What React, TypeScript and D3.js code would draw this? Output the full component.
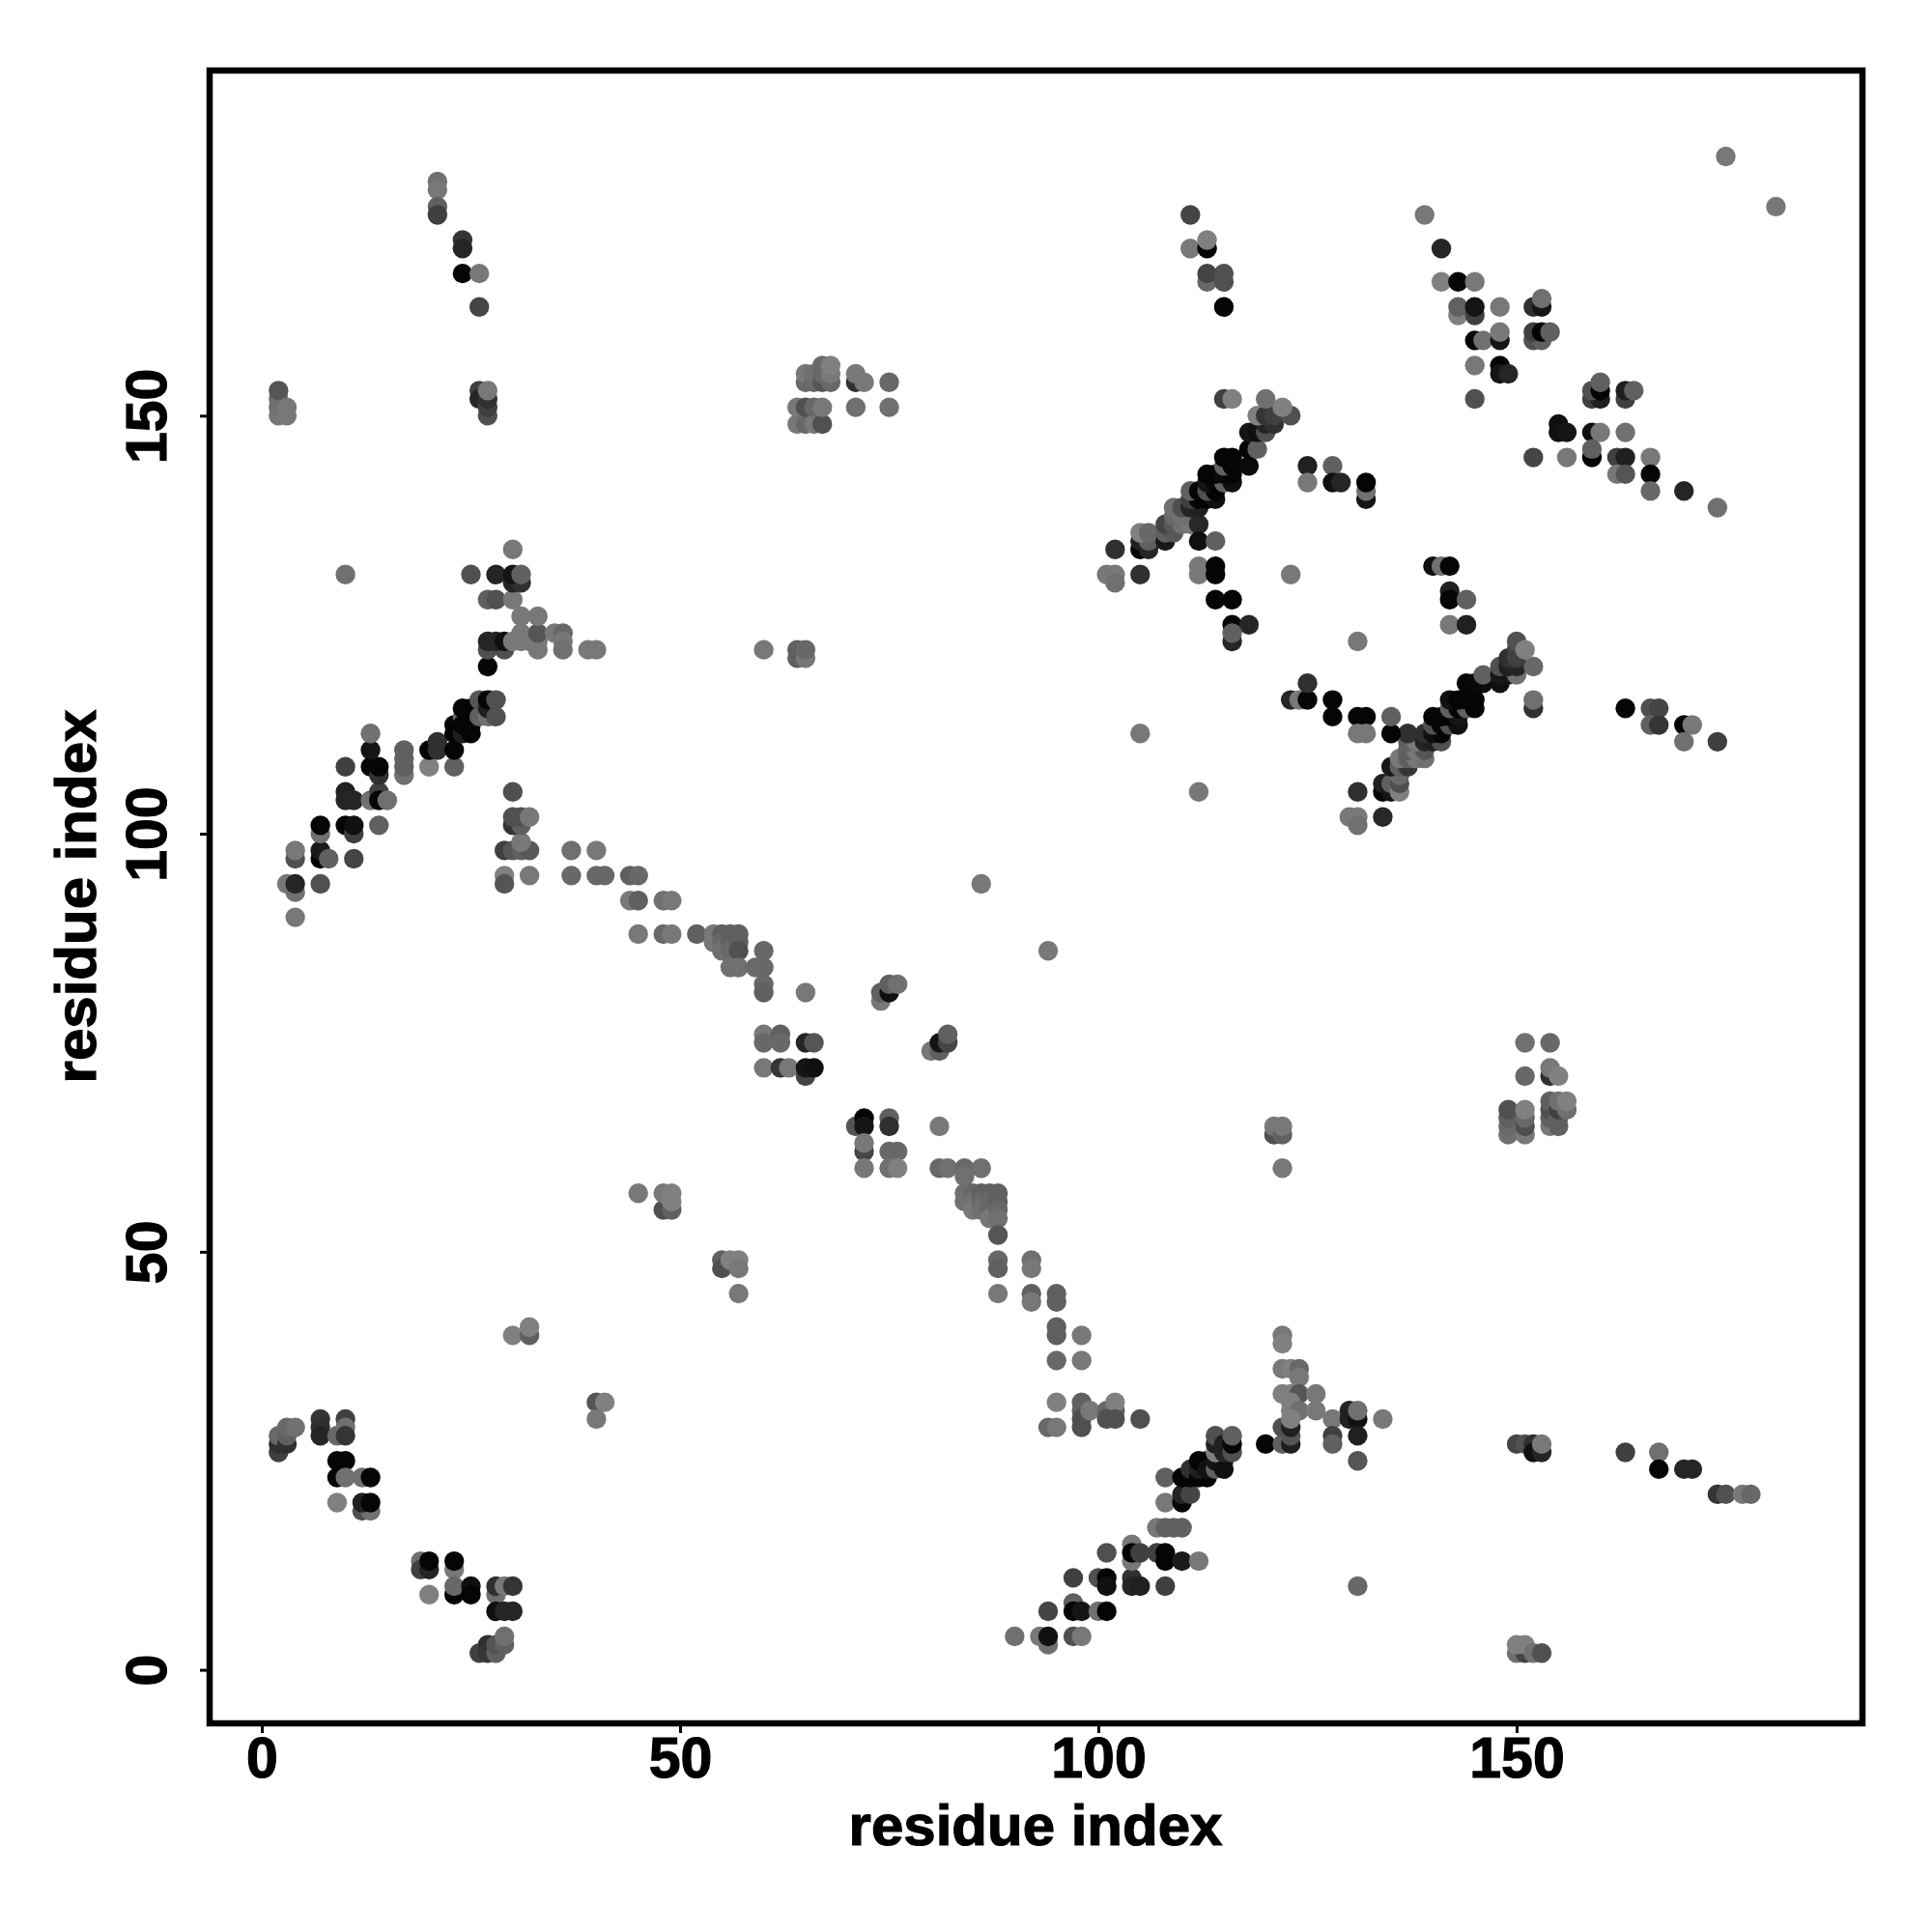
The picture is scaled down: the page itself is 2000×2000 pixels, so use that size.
import React, { useEffect, useRef } from 'react';
import * as d3 from 'd3';

// each contact is [residue i, residue j, grey level]
type Contact = [number, number, number];

const xTicks = [0, 50, 100, 150];
const yTicks = [0, 50, 100, 150];
const axisLabel = 'residue index';

const cornerLow: Contact[] = [
  [2, 26, 64], [2, 27, 48], [2, 28, 104], [3, 27, 48], [3, 28, 96], [3, 29, 104], [4, 29, 112],
  [7, 30, 53], [7, 29, 48], [7, 28, 37], [9, 28, 104], [10, 30, 64], [10, 29, 112], [10, 28, 53],
  [9, 25, 5], [10, 25, 5], [9, 23, 5], [10, 23, 112], [12, 23, 112], [13, 23, 5], [9, 20, 128],
  [12, 19, 80], [13, 19, 112], [12, 20, 32], [13, 20, 5],
  [19, 13, 112], [19, 12, 64], [20, 12, 37], [20, 13, 5], [20, 9, 128], [23, 12, 120], [23, 13, 5],
  [23, 9, 5], [23, 10, 104], [25, 10, 16], [25, 9, 5],
  [28, 9, 112], [28, 10, 48], [29, 10, 120], [30, 10, 53], [28, 7, 16], [29, 7, 37], [30, 7, 37],
  [26, 2, 64], [27, 3, 48], [27, 2, 53], [28, 2, 96], [28, 3, 85], [29, 3, 96], [29, 4, 112],
];

const scatterLow: Contact[] = [
  [30, 40, 128], [32, 40, 96], [32, 41, 128], [40, 32, 85], [41, 32, 128], [40, 30, 120],
  [45, 57, 120], [48, 55, 80], [49, 55, 96], [48, 57, 120], [49, 57, 128], [49, 56, 128],
  [55, 49, 96], [55, 48, 80], [56, 49, 128], [57, 49, 128], [57, 48, 120], [57, 45, 120],
];

const middleBand: Contact[] = [
  [52, 88, 96], [54, 88, 120], [54, 87, 120], [55, 88, 96], [55, 87, 104], [55, 86, 112],
  [56, 88, 96], [56, 87, 96], [56, 86, 104], [57, 88, 96], [57, 87, 96], [57, 86, 80],
  [56, 84, 112], [57, 84, 112], [60, 86, 104], [59, 84, 106], [60, 84, 104], [60, 82, 104],
  [60, 81, 96], [65, 81, 120],
  [60, 76, 120], [60, 75, 104], [60, 72, 120], [62, 76, 96], [62, 75, 104], [62, 72, 53], [63, 72, 120],
  [65, 75, 37], [66, 75, 85], [65, 71, 69], [65, 72, 21], [66, 72, 16],
  [71, 65, 85], [72, 66, 5], [72, 65, 21], [75, 66, 96], [75, 65, 48], [72, 62, 69], [72, 63, 120],
  [72, 60, 120], [75, 62, 104], [76, 62, 104], [75, 60, 112], [76, 60, 128],
  [74, 80, 120], [74, 81, 96], [75, 81, 16], [75, 82, 96], [76, 82, 112],
  [80, 74, 120], [81, 74, 96], [81, 75, 21], [82, 75, 69], [82, 76, 96], [81, 65, 120],
  [81, 60, 104], [82, 60, 112], [84, 60, 104], [86, 60, 112], [84, 59, 112],
  [84, 57, 112], [84, 56, 112], [85, 57, 104], [85, 56, 112], [85, 55, 120],
  [86, 57, 96], [86, 56, 104], [86, 55, 112], [87, 57, 96], [87, 56, 104], [87, 55, 104], [87, 54, 120],
  [88, 57, 96], [88, 56, 96], [88, 55, 104], [88, 54, 112], [88, 52, 85],
  [88, 49, 104], [88, 48, 96], [88, 45, 120], [92, 49, 112], [92, 48, 120], [92, 45, 96], [92, 44, 120],
  [95, 45, 96], [95, 44, 96], [95, 41, 96], [95, 40, 96], [95, 37, 104], [98, 40, 120], [98, 37, 120],
  [95, 32, 128], [98, 32, 96], [98, 31, 96], [98, 30, 80], [98, 29, 80], [99, 31, 120],
  [101, 31, 104], [102, 31, 96], [102, 32, 128], [101, 30, 80], [102, 30, 80], [105, 30, 80],
  [94, 29, 104], [95, 29, 120],
];

const helixLow: Contact[] = [
  [90, 4, 112], [93, 4, 120], [94, 3, 112], [94, 4, 16], [94, 7, 69], [97, 4, 80], [98, 4, 120],
  [97, 8, 96], [97, 7, 5], [98, 7, 21], [100, 7, 112], [101, 7, 5], [97, 11, 64], [100, 11, 80],
  [101, 11, 5], [101, 10, 16], [101, 14, 80], [104, 11, 48], [104, 10, 37], [105, 10, 32],
  [104, 15, 120], [104, 13, 120], [104, 14, 5], [105, 14, 64], [107, 14, 64], [108, 14, 5], [108, 13, 5],
  [108, 10, 64], [110, 13, 26], [112, 13, 120],
  [107, 17, 120], [108, 17, 96], [109, 17, 96], [110, 17, 96], [108, 20, 120], [110, 20, 5],
  [110, 21, 37], [111, 21, 69], [108, 23, 96], [110, 23, 5], [111, 23, 5], [111, 24, 48], [112, 23, 5],
  [113, 23, 5], [112, 24, 32], [112, 25, 5], [113, 25, 5], [113, 24, 16], [114, 24, 96], [114, 25, 21],
  [115, 25, 32], [115, 24, 16], [114, 26, 128], [114, 27, 32], [114, 28, 80], [115, 26, 37], [115, 27, 32],
  [116, 26, 80], [116, 27, 5], [116, 28, 96],
];

const knotLow: Contact[] = [
  [120, 27, 5], [122, 27, 96], [123, 27, 32], [122, 29, 80], [123, 28, 85], [123, 29, 32],
  [122, 40, 120], [122, 39, 128], [122, 36, 120], [123, 36, 128], [124, 36, 104], [124, 35, 120],
  [122, 33, 128], [123, 33, 128], [124, 33, 85], [126, 33, 120], [123, 32, 128], [123, 31, 128],
  [124, 31, 112], [123, 30, 128], [126, 31, 120],
  [128, 30, 120], [128, 28, 64], [128, 27, 96], [130, 31, 37], [130, 30, 32], [131, 30, 16],
  [131, 31, 112], [131, 28, 32], [131, 25, 85], [134, 30, 120], [131, 10, 104],
  [150, 27, 69], [151, 27, 80], [152, 27, 48], [152, 26, 16], [153, 26, 37], [153, 27, 120],
  [163, 26, 64], [167, 26, 112], [167, 24, 5], [170, 24, 37], [171, 24, 37],
  [174, 21, 53], [175, 21, 80], [177, 21, 120], [178, 21, 104],
  [150, 2, 112], [151, 2, 69], [150, 3, 128], [151, 3, 128], [152, 2, 112], [153, 2, 80],
];

const blockRight: Contact[] = [
  [121, 64, 80], [121, 65, 120], [122, 64, 96], [122, 65, 120], [122, 60, 120],
  [151, 75, 112], [154, 75, 104], [151, 71, 104], [154, 71, 48], [154, 72, 120], [155, 71, 128],
  [149, 64, 112], [149, 65, 104], [149, 66, 96], [149, 67, 80],
  [151, 64, 120], [151, 65, 80], [151, 66, 104], [151, 67, 128],
  [154, 65, 120], [154, 66, 96], [154, 67, 80], [154, 68, 96],
  [155, 65, 96], [155, 66, 96], [155, 67, 64], [155, 68, 112], [156, 67, 112], [156, 68, 128],
];

const helixLeft: Contact[] = [
  [4, 90, 120], [3, 94, 120], [4, 93, 112], [4, 94, 37], [7, 94, 80], [4, 97, 80], [4, 98, 120],
  [7, 97, 5], [7, 98, 26], [8, 97, 96], [11, 97, 69], [7, 100, 112], [7, 101, 5], [10, 101, 5],
  [11, 100, 64], [11, 101, 16], [14, 101, 96], [10, 105, 32], [10, 104, 37], [11, 104, 37],
  [13, 104, 112], [14, 105, 64], [14, 104, 5], [15, 104, 112], [10, 108, 64], [13, 108, 5],
  [14, 107, 48], [14, 108, 5], [13, 110, 21], [13, 112, 112],
  [17, 107, 112], [17, 108, 96], [17, 109, 96], [17, 110, 96], [20, 108, 128], [20, 110, 5],
  [21, 110, 48], [21, 111, 48], [23, 108, 96], [23, 110, 5], [23, 112, 5], [23, 113, 5],
  [24, 114, 104], [24, 112, 32], [24, 113, 5], [24, 115, 5], [25, 112, 5], [25, 113, 5], [25, 115, 5],
  [26, 114, 96], [26, 116, 85], [27, 114, 112], [27, 115, 32], [27, 116, 5], [28, 114, 80], [28, 116, 80],
];

const bridgeLeft: Contact[] = [
  [29, 95, 128], [29, 94, 85], [32, 95, 120], [29, 98, 64], [30, 98, 85], [31, 98, 96], [32, 98, 88],
  [31, 99, 120], [30, 101, 53], [31, 101, 96], [30, 102, 80], [31, 102, 80], [32, 102, 120], [30, 105, 80],
  [37, 98, 112], [40, 98, 120], [37, 95, 104], [40, 95, 104], [41, 95, 104], [44, 95, 96], [45, 95, 104],
  [44, 92, 120], [45, 92, 96], [48, 92, 112], [49, 92, 120], [45, 88, 120], [48, 88, 104], [49, 88, 120],
  [10, 131, 112], [86, 94, 120], [94, 86, 120],
];

const shoulderLeft: Contact[] = [
  [27, 120, 5], [27, 122, 80], [29, 122, 80], [27, 123, 37], [28, 123, 37], [29, 123, 16], [30, 123, 120],
  [31, 123, 120], [32, 123, 120], [33, 123, 120], [33, 122, 120], [31, 124, 120], [33, 124, 85], [35, 124, 120],
  [36, 124, 104], [36, 123, 120], [36, 122, 112], [39, 122, 120], [40, 122, 120], [31, 126, 120], [33, 126, 120],
  [27, 128, 96], [28, 128, 80], [30, 128, 120], [25, 131, 80], [28, 131, 37], [30, 130, 37], [31, 130, 48],
  [30, 131, 21], [31, 131, 96], [30, 134, 120],
  [60, 122, 120], [64, 121, 96], [64, 122, 96], [65, 121, 120], [65, 122, 104],
];

const topLeft: Contact[] = [
  [21, 178, 112], [21, 177, 120], [21, 175, 96], [21, 174, 64], [24, 171, 53], [24, 170, 37], [24, 167, 5],
  [26, 167, 120], [26, 163, 69], [2, 150, 120], [2, 151, 112], [2, 152, 112], [2, 153, 85], [3, 150, 120], [3, 151, 120],
  [26, 153, 64], [26, 152, 37], [27, 150, 80], [27, 151, 64], [27, 152, 48], [27, 153, 120],
  [64, 149, 120], [65, 149, 104], [66, 149, 120], [67, 149, 80], [64, 151, 120], [65, 151, 80], [66, 151, 104],
  [67, 151, 120], [65, 154, 104], [65, 155, 120], [66, 154, 104], [66, 155, 112], [67, 154, 85], [67, 155, 104],
  [67, 156, 104], [68, 154, 104], [68, 155, 120], [68, 156, 128], [71, 154, 48], [71, 155, 120], [72, 154, 120],
  [75, 154, 104], [71, 151, 112], [75, 151, 112],
];

const topRight: Contact[] = [
  [111, 174, 69], [111, 170, 120], [113, 170, 5], [113, 171, 128], [113, 166, 104], [113, 167, 69], [115, 166, 80],
  [115, 167, 80], [115, 163, 5], [175, 181, 120], [181, 175, 120],
  [139, 174, 120], [141, 170, 37], [141, 166, 128], [143, 166, 5], [145, 166, 120],
  [143, 162, 128], [143, 163, 96], [145, 162, 64], [145, 163, 21], [148, 163, 120],
  [152, 163, 48], [153, 163, 21], [153, 164, 112],
  [145, 159, 5], [146, 159, 112], [148, 159, 21], [148, 160, 120], [152, 159, 80], [153, 159, 96],
  [152, 160, 64], [153, 160, 5], [154, 160, 96],
  [145, 156, 120], [148, 156, 5], [148, 155, 21], [149, 155, 37], [145, 152, 80],
  [159, 152, 64], [160, 152, 32], [159, 153, 80], [160, 153, 5], [160, 154, 96], [163, 152, 64], [163, 153, 32], [164, 153, 96],
  [155, 149, 16], [155, 148, 16], [156, 148, 21], [159, 148, 16], [160, 148, 120], [163, 148, 112],
  [152, 145, 69], [156, 145, 120], [159, 145, 5], [159, 146, 96], [162, 145, 64], [163, 145, 32],
  [162, 143, 120], [163, 143, 85], [166, 145, 120], [166, 143, 5], [166, 141, 104], [170, 141, 37], [174, 139, 112],
];

const helixUpper: Contact[] = [
  [102, 134, 48], [101, 131, 120], [102, 131, 120], [102, 130, 112], [105, 131, 48],
  [105, 134, 5], [106, 134, 37], [105, 135, 32], [106, 135, 96], [105, 136, 128], [106, 136, 104],
  [108, 135, 24], [108, 136, 96], [109, 136, 88], [108, 137, 69], [109, 137, 88], [110, 137, 112], [111, 137, 120],
  [109, 138, 104], [110, 138, 112], [112, 137, 40], [112, 135, 16], [114, 135, 96],
  [109, 139, 112], [110, 139, 80], [111, 139, 37], [112, 139, 32], [111, 140, 64], [112, 140, 5],
  [113, 140, 5], [114, 140, 16], [111, 141, 96], [112, 141, 5], [113, 141, 80], [114, 141, 5],
  [113, 142, 21], [114, 142, 5], [115, 142, 96], [116, 142, 16], [113, 143, 5], [114, 143, 5],
  [115, 143, 10], [116, 143, 5], [115, 144, 96], [116, 144, 5], [115, 145, 5], [116, 145, 5],
  [118, 144, 10], [118, 146, 5], [119, 146, 96], [118, 148, 21], [119, 148, 16], [120, 148, 80],
  [120, 149, 37], [121, 149, 48], [119, 150, 128], [120, 150, 53], [121, 150, 64], [123, 150, 80],
  [122, 151, 128], [120, 152, 112], [115, 152, 64], [116, 152, 128],
  [112, 131, 120], [112, 132, 120], [114, 131, 5], [114, 132, 5], [114, 128, 5], [116, 128, 5],
  [116, 125, 5], [118, 125, 37], [116, 123, 37], [116, 124, 96], [123, 131, 120],
  [125, 144, 32], [125, 142, 120], [128, 144, 96], [128, 142, 16], [129, 142, 37],
  [132, 140, 21], [132, 141, 112], [132, 142, 5],
  [140, 132, 16], [141, 132, 112], [142, 132, 5], [142, 129, 32], [142, 128, 5], [144, 128, 96],
  [142, 125, 120], [144, 125, 32],
];

const helixLower: Contact[] = [
  [130, 102, 120], [131, 102, 120], [131, 101, 112], [134, 102, 40], [131, 105, 48], [134, 105, 5], [134, 106, 32],
  [135, 105, 21], [135, 106, 96], [136, 105, 128], [136, 106, 80], [136, 107, 104], [135, 108, 24],
  [136, 108, 96], [137, 108, 53], [136, 109, 120], [137, 109, 96], [138, 109, 120], [139, 109, 112],
  [137, 110, 96], [138, 110, 120], [139, 110, 85], [137, 111, 96], [138, 111, 120], [137, 112, 48],
  [139, 111, 37], [140, 111, 32], [141, 111, 80], [139, 112, 48], [140, 112, 16], [141, 112, 5],
  [140, 113, 80], [141, 113, 5], [142, 113, 80], [143, 113, 16], [140, 114, 5], [141, 114, 5],
  [142, 114, 5], [143, 114, 21], [142, 115, 96], [143, 115, 5], [144, 115, 96], [145, 115, 5],
  [142, 116, 16], [143, 116, 5], [144, 116, 5], [145, 116, 5], [144, 118, 5], [145, 118, 8],
  [146, 118, 10], [146, 119, 96], [148, 118, 16], [148, 119, 24], [149, 119, 21], [150, 119, 112],
  [148, 120, 80], [149, 120, 32], [150, 120, 37], [152, 120, 104], [149, 121, 48], [150, 121, 64],
  [150, 122, 64], [150, 123, 80], [151, 122, 128], [152, 115, 48], [152, 116, 112], [131, 123, 120],
  [135, 112, 5], [135, 114, 96], [131, 114, 5], [132, 114, 5], [131, 112, 120], [132, 112, 120],
  [128, 116, 5], [128, 114, 5],
  [123, 116, 37], [124, 116, 120], [125, 116, 5], [125, 118, 48],
  [163, 115, 5], [166, 115, 80], [167, 115, 69], [166, 113, 96], [167, 113, 53],
  [170, 113, 5], [171, 113, 120], [170, 111, 112], [174, 111, 64], [105, 112, 120], [112, 105, 120],
];

const contacts: Contact[] = [
  ...cornerLow, ...scatterLow, ...middleBand, ...helixLow, ...knotLow, ...blockRight, ...helixLeft,
  ...bridgeLeft, ...shoulderLeft, ...topLeft, ...topRight, ...helixUpper, ...helixLower,
];

export default function App() {
  const ref = useRef<SVGSVGElement>(null);

  useEffect(() => {
    const svg = d3.select(ref.current);
    svg.selectAll('*').remove();

    const x = d3.scaleLinear().domain([0, 150]).range([271, 1570]);
    const y = d3.scaleLinear().domain([0, 150]).range([1728.6, 430.3]);
    const font = '"Liberation Sans", Arial, sans-serif';

    svg.append('g')
      .selectAll('circle')
      .data(contacts)
      .enter()
      .append('circle')
      .attr('cx', d => x(d[0]))
      .attr('cy', d => y(d[1]))
      .attr('r', 10.2)
      .attr('fill', d => d3.rgb(d[2], d[2], d[2]).formatHex());

    svg.append('rect')
      .attr('x', 217)
      .attr('y', 73)
      .attr('width', 1711)
      .attr('height', 1711)
      .attr('fill', 'none')
      .attr('stroke', '#000')
      .attr('stroke-width', 6.5);

    const xAxis = svg.append('g')
      .attr('transform', 'translate(0,1786)')
      .call(d3.axisBottom(x).tickValues(xTicks).tickFormat(d3.format('d')).tickSize(8).tickPadding(10));
    const yAxis = svg.append('g')
      .attr('transform', 'translate(215,0)')
      .call(d3.axisLeft(y).tickValues(yTicks).tickFormat(d3.format('d')).tickSize(8));

    for (const axis of [xAxis, yAxis]) {
      axis.select('.domain').remove();
      axis.selectAll('line').attr('stroke', '#000').attr('stroke-width', 3);
      axis.selectAll('text')
        .attr('fill', '#000')
        .attr('stroke', '#000')
        .attr('stroke-width', 1.2)
        .attr('font-family', font)
        .attr('font-weight', 'bold')
        .attr('font-size', 59);
    }
    xAxis.selectAll('text').attr('y', 54).attr('dy', 0);
    yAxis.selectAll('text')
      .attr('x', 0)
      .attr('dy', 0)
      .attr('text-anchor', 'middle')
      .attr('transform', 'translate(-43,0) rotate(-90)');

    for (const transform of ['translate(1072,1910)', 'translate(99,928) rotate(-90)']) {
      svg.append('text')
        .attr('transform', transform)
        .attr('text-anchor', 'middle')
        .attr('fill', '#000')
        .attr('stroke', '#000')
        .attr('stroke-width', 1.2)
        .attr('font-family', font)
        .attr('font-weight', 'bold')
        .attr('font-size', 60)
        .text(axisLabel);
    }
  }, []);

  return (
    <svg
      ref={ref}
      width={2000}
      height={2000}
      style={{ position: 'absolute', left: 0, top: 0, background: '#fff' }}
    />
  );
}
